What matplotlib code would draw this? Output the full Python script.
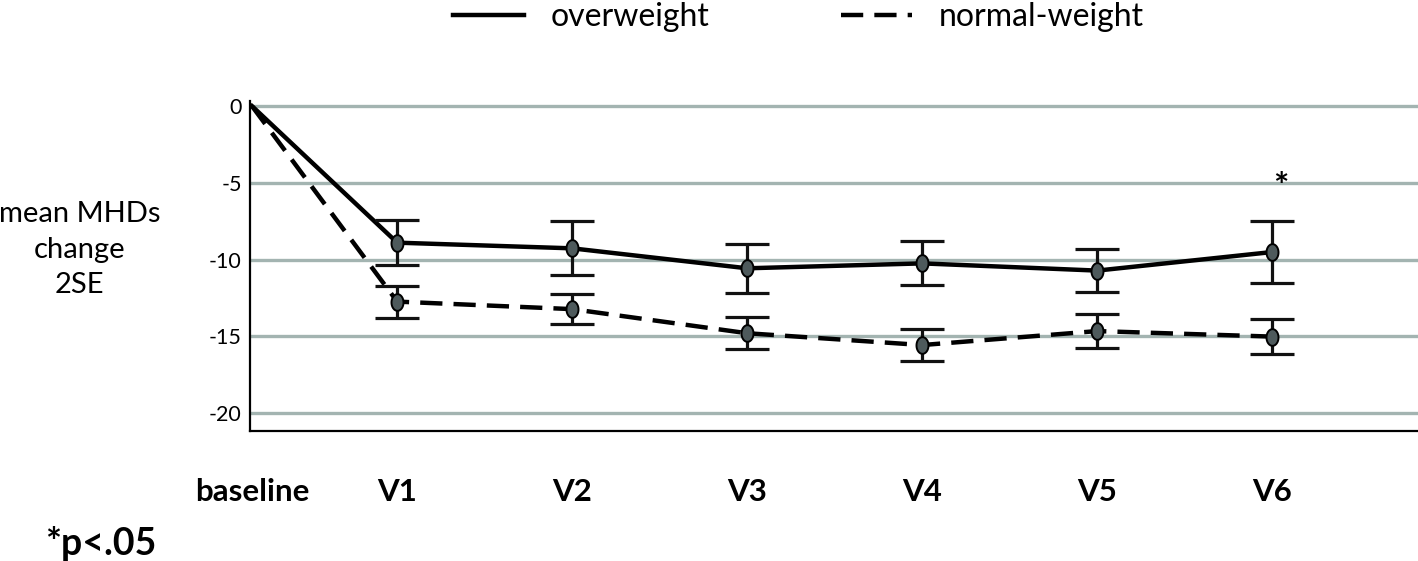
import numpy as np
import matplotlib
matplotlib.use("Agg")
import matplotlib.pyplot as plt
from matplotlib.path import Path
from matplotlib.lines import Line2D

plt.rcParams['font.family'] = ['Lato', 'DejaVu Sans']

# visits and their positions along the x axis
visits = ["baseline", "V1", "V2", "V3", "V4", "V5", "V6"]
visit_pos = [0, 0.83, 1.83, 2.83, 3.83, 4.83, 5.83]

# mean change and 2SE half-widths
over_mean = [0, -8.9, -9.27, -10.57, -10.25, -10.72, -9.51]
over_err = [0, 1.45, 1.75, 1.58, 1.44, 1.42, 2.0]
normal_mean = [0, -12.74, -13.23, -14.8, -15.57, -14.66, -15.02]
normal_err = [0, 1.04, 1.0, 1.03, 1.06, 1.1, 1.12]

# tall ellipse marker
t = np.linspace(0, 2 * np.pi, 60)
ellipse = Path(np.column_stack([0.72 * np.cos(t), np.sin(t)]), closed=True)

fig = plt.figure(figsize=(14.18, 5.61), dpi=100)
ax = fig.add_axes([0.1763, 0.2317, 0.8237, 0.5875])

for y in [0, -5, -10, -15, -20]:
    ax.axhline(y, color="#a3b4b1", lw=2.4, zorder=0)

ax.plot(visit_pos, over_mean, color="black", lw=3.2, ls="-", zorder=3)
ax.plot(visit_pos, normal_mean, color="black", lw=3.2, ls=(0, (5, 2.5)), zorder=3)

ax.errorbar(visit_pos[1:], over_mean[1:], yerr=over_err[1:], fmt="none",
            ecolor="#111111", elinewidth=2.3, capsize=15.5, capthick=2.3, zorder=4)
ax.errorbar(visit_pos[1:], normal_mean[1:], yerr=normal_err[1:], fmt="none",
            ecolor="#111111", elinewidth=2.3, capsize=15.5, capthick=2.3, zorder=4)
ax.plot(visit_pos[1:], over_mean[1:], ls="none", marker=ellipse, ms=12,
        mfc="#4e5a5c", mec="black", mew=1.4, zorder=5)
ax.plot(visit_pos[1:], normal_mean[1:], ls="none", marker=ellipse, ms=12,
        mfc="#4e5a5c", mec="black", mew=1.4, zorder=5)

ax.text(visit_pos[6] + 0.05, -5.3, "*", ha="center", va="center",
        fontsize=26, fontweight="bold")

ax.set_xlim(-0.011, 6.663)
ax.set_ylim(-21.17, 0.3)
ax.set_yticks([0, -5, -10, -15, -20])
ax.set_yticklabels(["0", "-5", "-10", "-15", "-20"], fontsize=15.5)
ax.set_xticks(visit_pos)
ax.set_xticklabels(visits, fontsize=22.5, fontweight="bold")
ax.tick_params(axis="both", length=0)
ax.tick_params(axis="x", pad=34)
ax.tick_params(axis="y", pad=6)
for s in ["top", "right"]:
    ax.spines[s].set_visible(False)
for s in ["left", "bottom"]:
    ax.spines[s].set_linewidth(1.6)

fig.text(0.056, 0.555, "mean MHDs\nchange\n2SE", ha="center", va="center",
         fontsize=21, linespacing=1.45)
fig.text(0.032, 0.032, "*p<.05", ha="left", va="center", fontsize=27,
         fontweight="bold")

handles = [Line2D([], [], color="black", lw=3.2, ls="-"),
           Line2D([], [], color="black", lw=3.2, ls=(0, (5, 2.5)))]
fig.legend(handles, ["overweight", "normal-weight"], loc="center",
           bbox_to_anchor=(0.563, 0.97), ncol=2, frameon=False, fontsize=23,
           handlelength=2.22, handletextpad=0.84, columnspacing=4.1)

fig.savefig("out.png", dpi=100)
